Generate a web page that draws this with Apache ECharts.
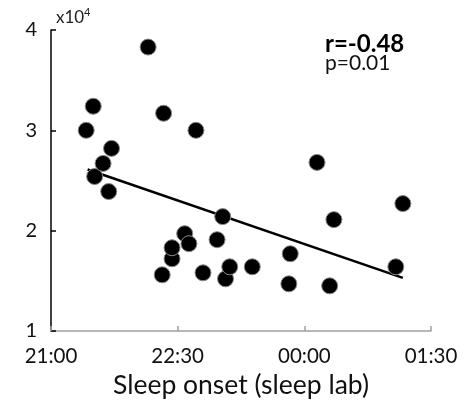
<!DOCTYPE html>
<html>
<head>
<meta charset="utf-8">
<script src="https://cdn.jsdelivr.net/npm/echarts@6/dist/echarts.min.js"></script>
<style>html,body{margin:0;padding:0;background:#fff}#c{width:476px;height:409px}</style>
</head>
<body>
<div id="c"></div>
<script>
// Sleep onset (clock time) and value (x10^4)
var onsetTimes = ["21:25","21:30","21:31","21:37","21:41","21:43","22:09","22:19","22:20","22:26","22:26","22:35","22:38","22:43","22:48","22:58","23:02","23:04","23:07","23:23","23:49","23:50","00:09","00:18","00:21","01:05","01:10"];
var values = [3.00,3.24,2.54,2.67,2.39,2.82,3.83,1.56,3.17,1.72,1.83,1.97,1.87,3.00,1.58,1.91,2.14,1.52,1.64,1.64,1.47,1.77,2.68,1.45,2.11,1.64,2.27];
var fitTimes = ["21:26","01:10"];
var fitValues = [2.61,1.53];
var xTickLabels = ["21:00","22:30","00:00","01:30"];
var yTickLabels = ["1","2","3","4"];
var yUnit = ["x10", "4"];
var statR = "r=-0.48";
var statP = "p=0.01";

function toMin(t){
  var p = t.split(":"), h = +p[0], m = +p[1];
  var v = (h - 21) * 60 + m;
  if (v < 0) v += 24 * 60;
  return v;
}
function toClock(v){
  var total = (21 * 60 + v) % (24 * 60);
  var h = Math.floor(total / 60), m = total % 60;
  return (h < 10 ? "0" : "") + h + ":" + (m < 10 ? "0" : "") + m;
}
var pts = onsetTimes.map(function(t, i){ return [toMin(t), values[i]]; });
var fit = fitTimes.map(function(t, i){ return [toMin(t), fitValues[i]]; });

var FONT = "Lato";
var chart = echarts.init(document.getElementById('c'), null, {renderer: 'canvas'});
chart.setOption({
  animation: false,
  backgroundColor: '#fff',
  grid: {left: 51, right: 45, top: 30, bottom: 78},
  xAxis: {
    type: 'value', min: 0, max: 270, interval: 90,
    axisLine: {lineStyle: {color: '#a0a0a0', width: 1.5}},
    axisTick: {inside: true, length: 5, lineStyle: {color: '#a0a0a0', width: 1.5}},
    splitLine: {show: false},
    axisLabel: {
      margin: 15, color: '#111', fontSize: 20.5, fontFamily: FONT,
      formatter: function(v){ var s = toClock(v); return xTickLabels.indexOf(s) >= 0 ? s : ''; }
    },
    name: 'Sleep onset (sleep lab)', nameLocation: 'middle', nameGap: 33,
    nameTextStyle: {fontSize: 26.5, color: '#111', fontFamily: FONT}
  },
  yAxis: {
    type: 'value', min: 1, max: 4, interval: 1,
    axisLine: {lineStyle: {color: '#000', width: 1.5}},
    axisTick: {inside: true, length: 5, lineStyle: {color: '#000', width: 1.5}},
    splitLine: {show: false},
    axisLabel: {
      margin: 14, color: '#111', fontSize: 20, fontFamily: FONT,
      formatter: function(v){ var s = String(v); return yTickLabels.indexOf(s) >= 0 ? s : ''; }
    }
  },
  graphic: [
    {type: 'text', left: 56, top: 9, style: {text: yUnit[0], font: 'normal 17px Lato', fill: '#222'}},
    {type: 'text', left: 84, top: 7, style: {text: yUnit[1], font: 'normal 11px Lato', fill: '#222'}},
    {type: 'text', left: 325, top: 32, style: {text: statR, font: 'bold 24px Lato', fill: '#000'}},
    {type: 'text', left: 325, top: 53, style: {text: statP, font: 'normal 21px Lato', fill: '#111'}}
  ],
  series: [
    {
      type: 'line', data: fit, symbol: 'none', z: 2,
      lineStyle: {color: '#000', width: 2.5}
    },
    {
      type: 'scatter', data: pts, symbol: 'circle', symbolSize: 16, z: 3,
      itemStyle: {color: '#000', borderColor: '#888', borderWidth: 1, opacity: 1}
    }
  ]
});
</script>
</body>
</html>
